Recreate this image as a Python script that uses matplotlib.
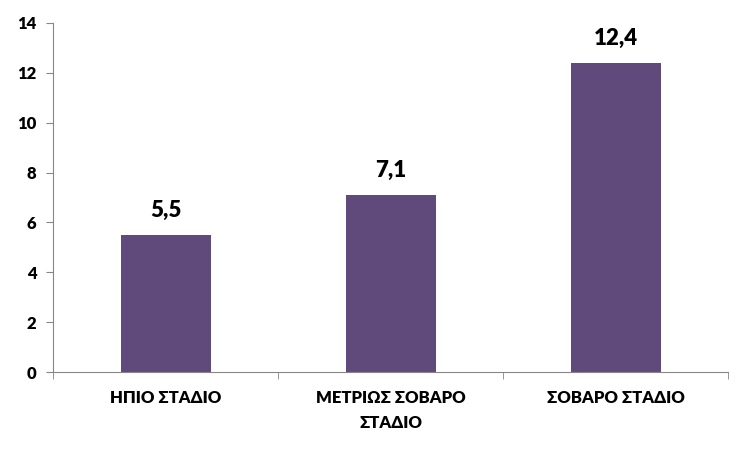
import matplotlib.pyplot as plt

# Δεδομένα
categories = ['ΗΠΙΟ ΣΤΑΔΙΟ', 'ΜΕΤΡΙΩΣ ΣΟΒΑΡΟ\nΣΤΑΔΙΟ', 'ΣΟΒΑΡΟ ΣΤΑΔΙΟ']
values = [5.5, 7.1, 12.4]
value_labels = ['5,5', '7,1', '12,4']
y_ticks = [0, 2, 4, 6, 8, 10, 12, 14]

plt.rcParams['font.family'] = ['Lato', 'DejaVu Sans']

fig = plt.figure(figsize=(7.5, 4.5), dpi=100)
ax = fig.add_axes([0.0707, 0.1733, 0.9, 0.7756])

x = list(range(len(categories)))
ax.bar(x, values, width=0.4, color='#604A7B')

for xi, v, lab in zip(x, values, value_labels):
    ax.annotate(lab, (xi, v), xytext=(0, 10), textcoords='offset points',
                ha='center', va='bottom', fontsize=16, fontweight='heavy')

ax.set_xlim(-0.5, 2.5)
ax.set_ylim(0, 14)
ax.set_yticks(y_ticks)
ax.set_xticks(x)
ax.set_xticklabels(categories, fontsize=12, fontweight='heavy', linespacing=1.65)
ax.set_xticks([-0.5, 0.5, 1.5, 2.5], minor=True)
ax.tick_params(axis='x', which='major', length=0, pad=13)
ax.tick_params(axis='x', which='minor', length=5, color='#868686', direction='out')
ax.tick_params(axis='y', length=5, color='#868686', labelsize=12, pad=7)
for lab in ax.get_yticklabels():
    lab.set_fontweight('heavy')

for s in ['top', 'right']:
    ax.spines[s].set_visible(False)
for s in ['left', 'bottom']:
    ax.spines[s].set_color('#868686')

plt.savefig('out.png', dpi=100)
